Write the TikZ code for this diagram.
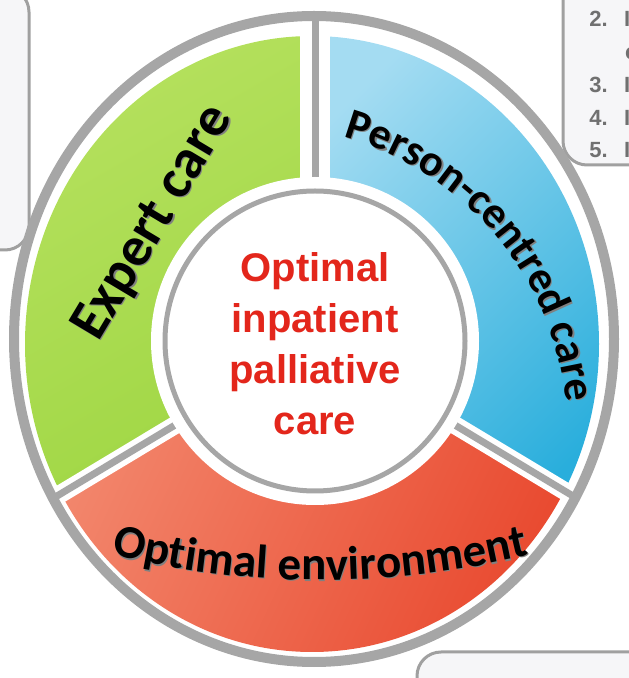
\documentclass[tikz,border=0pt]{standalone}
\usepackage{fontspec}
\setmainfont{Liberation Sans}
\newfontfamily\segfont{Carlito}
\usetikzlibrary{decorations.text}

\definecolor{ringgrey}{HTML}{A6A6A6}
\definecolor{boxgrey}{HTML}{A0A0A0}
\definecolor{boxfill}{HTML}{F6F6F8}
\definecolor{listgrey}{HTML}{707070}
\definecolor{titlered}{HTML}{E3261B}
\definecolor{greenlight}{HTML}{B6E15F}
\definecolor{greendark}{HTML}{9ED642}
\definecolor{bluelight}{HTML}{A4DCF2}
\definecolor{bluedark}{HTML}{29AEDC}
\definecolor{redlight}{HTML}{F38A70}
\definecolor{reddark}{HTML}{E8452B}

\tikzset{
  sidebox/.style={draw=boxgrey, fill=boxfill, line width=3pt, rounded corners=24pt},
  listnum/.style={text=listgrey, font=\bfseries\fontsize{22}{22}\selectfont, inner sep=0pt},
  divider/.style={ringgrey, line width=7pt},
  dividergap/.style={white, line width=18pt},
  seglabel/.style 2 args={decorate, decoration={text along path, text align=center,
      text={|\segfont\bfseries\fontsize{#1}{#1}\selectfont|#2}}},
  % soft drop shadow under the labels
  segshadow/.style 2 args={seglabel={#1}{#2}, decoration={text color=black!50},
      opacity=0.3, xshift=1.2pt, yshift=-1.2pt}
}

\begin{document}
\begin{tikzpicture}[x=1pt,y=1pt]
\useasboundingbox (0,0) rectangle (629,678);
\coordinate (c) at (315,337);
\coordinate (o) at (314,339);

% boxes running off the edges
\draw[sidebox] (-60,428) rectangle (29,690);
\draw[sidebox] (563,513) rectangle (700,700);
\draw[sidebox] (417,-40) rectangle (700,26);

% numbered list, cut at the right edge
\node[listnum, anchor=base east] (n2) at (608,651) {2.};
\node[listnum, anchor=base west] (w2) at (624,651) {I};
\node[listnum, anchor=base west] (w2b) at (625,618) {c};
\node[listnum, anchor=base east] (n3) at (608,585) {3.};
\node[listnum, anchor=base west] (w3) at (624,585) {I};
\node[listnum, anchor=base east] (n4) at (608,552) {4.};
\node[listnum, anchor=base west] (w4) at (624,552) {I};
\node[listnum, anchor=base east] (n5) at (608,520) {5.};
\node[listnum, anchor=base west] (w5) at (624,520) {I};

% the three segments
\begin{scope}
  \clip (312,334) ellipse [x radius=287, y radius=308];
  \begin{scope}[shift={(c)}]
    \clip (0,0) -- (90:500) -- (150:500) -- (211:500) -- cycle;
    \shade[top color=greenlight, bottom color=greendark, shading angle=30] (-300,-200) rectangle (0,330);
  \end{scope}
  \begin{scope}[shift={(c)}]
    \clip (0,0) -- (90:500) -- (30:500) -- (329:500) -- cycle;
    \shade[top color=bluelight, bottom color=bluedark, shading angle=45] (0,-200) rectangle (300,330);
  \end{scope}
  \begin{scope}[shift={(c)}]
    \clip (0,0) -- (211:500) -- (270:500) -- (329:500) -- cycle;
    \shade[top color=redlight, bottom color=reddark, shading angle=65] (-300,-330) rectangle (300,0);
  \end{scope}
\end{scope}

% dividers
\begin{scope}
  \clip (o) ellipse [x radius=300, y radius=323];
  \draw[dividergap, line width=30pt] (c) -- ++(90:400);
  \draw[dividergap] (c) -- ++(211:400);
  \draw[dividergap] (c) -- ++(329:400);
  \draw[divider] (c) -- ++(90:400);
  \draw[divider] (c) -- ++(211:400);
  \draw[divider] (c) -- ++(329:400);
\end{scope}

% outer ring
\draw[ringgrey, line width=10pt] (o) ellipse [x radius=300, y radius=323];

% hub
\fill[white] (c) circle [radius=164];
\node[circle, draw=ringgrey, line width=5pt, fill=white, minimum size=300pt, inner sep=0pt] (hub) at (c) {};
\node[text=titlered, align=center, font=\bfseries\fontsize{40}{51}\selectfont] (title) at (315,334)
  {Optimal\\inpatient\\palliative\\care};

% segment labels
\path[segshadow={56}{Expert care}] (84,311) -- (248,585);
\path[seglabel={56}{Expert care}] (84,311) -- (248,585);
\path[segshadow={44}{Person-centred care}] (259,244) ++(80:309) arc [start angle=80, end angle=0, radius=309];
\path[seglabel={44}{Person-centred care}] (259,244) ++(80:309) arc [start angle=80, end angle=0, radius=309];
\path[segshadow={47}{Optimal environment}] (320,978) ++(255:880) arc [start angle=255, end angle=285, radius=880];
\path[seglabel={47}{Optimal environment}] (320,978) ++(255:880) arc [start angle=255, end angle=285, radius=880];
\end{tikzpicture}
\end{document}
